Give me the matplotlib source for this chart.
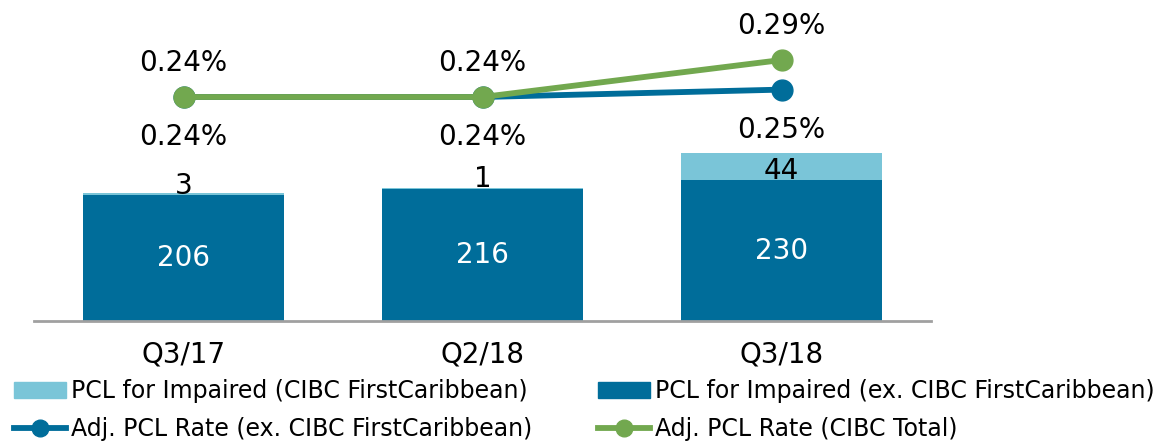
import matplotlib
matplotlib.use("Agg")
import matplotlib.pyplot as plt
from matplotlib.patches import Patch
from matplotlib.lines import Line2D

quarters = ["Q3/17", "Q2/18", "Q3/18"]
pcl_ex_fc = [206, 216, 230]
pcl_fc = [3, 1, 44]
rate_ex_fc = [0.24, 0.24, 0.25]
rate_total = [0.24, 0.24, 0.29]

dark = "#006d9a"
light = "#7ac5d8"
green = "#72a84f"

plt.rcParams["font.family"] = ["DejaVu Sans"]

fig = plt.figure(figsize=(11.65, 4.41), dpi=100)
ax = fig.add_axes([34 / 1165, 1 - 321 / 441, 897 / 1165, 321 / 441])
x = list(range(len(quarters)))

ax.bar(x, pcl_ex_fc, width=0.67, color=dark, zorder=2)
ax.bar(x, pcl_fc, width=0.67, bottom=pcl_ex_fc, color=light, zorder=2)
for i in x:
    ax.text(i, pcl_ex_fc[i] / 2, str(pcl_ex_fc[i]), color="white",
            ha="center", va="center", fontsize=20)
    ax.text(i, pcl_ex_fc[i] + 2, str(pcl_fc[i]), color="black",
            ha="center", va="baseline", fontsize=20)

ax.set_xlim(-0.5, 2.5)
ax.set_ylim(0, 524)
ax.set_yticks([])
ax.set_xticks(x)
ax.set_xticklabels(quarters, fontsize=20)
ax.tick_params(axis="x", length=0, pad=14)
for s in ["top", "right", "left"]:
    ax.spines[s].set_visible(False)
ax.spines["bottom"].set_color("#a0a0a0")
ax.spines["bottom"].set_linewidth(2)

ax2 = ax.twinx()
ax2.set_ylim(-0.0627, 0.3711)
ax2.set_yticks([])
for s in ["top", "right", "left", "bottom"]:
    ax2.spines[s].set_visible(False)
ax2.plot(x, rate_ex_fc, color=dark, lw=4.2, marker="o", markersize=15, zorder=3)
ax2.plot(x, rate_total, color=green, lw=4.2, marker="o", markersize=15, zorder=4)
for i in x:
    ax2.annotate(f"{rate_ex_fc[i]:.2f}%", (i, rate_ex_fc[i]), xytext=(0, -40),
                 textcoords="offset pixels", ha="center", va="center", fontsize=20)
    ax2.annotate(f"{rate_total[i]:.2f}%", (i, rate_total[i]), xytext=(0, 34),
                 textcoords="offset pixels", ha="center", va="center", fontsize=20)

handles = [
    Patch(color=light, label="PCL for Impaired (CIBC FirstCaribbean)"),
    Line2D([], [], color=dark, lw=4.2, marker="o", markersize=12,
           label="Adj. PCL Rate (ex. CIBC FirstCaribbean)"),
    Patch(color=dark, label="PCL for Impaired (ex. CIBC FirstCaribbean)"),
    Line2D([], [], color=green, lw=4.2, marker="o", markersize=12,
           label="Adj. PCL Rate (CIBC Total)"),
]
fig.legend(handles=handles, ncol=2, loc="lower left", bbox_to_anchor=(0.004, -0.022),
           frameon=False, fontsize=17, handlelength=2.2, handletextpad=0.2,
           columnspacing=2.8, labelspacing=0.6, borderaxespad=0)

fig.savefig("out.png", dpi=100)
